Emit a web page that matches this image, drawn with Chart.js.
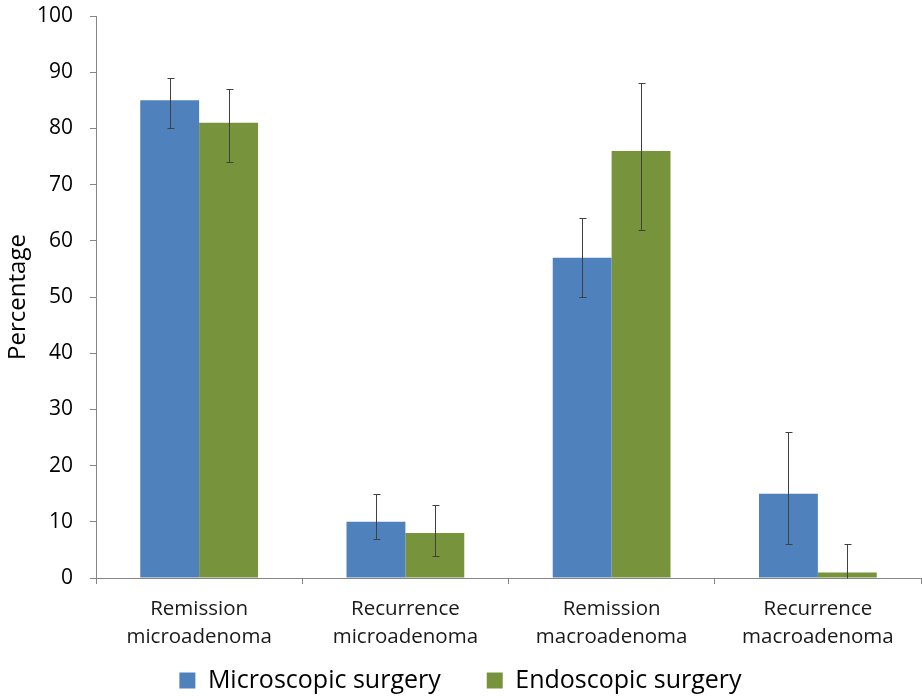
<!DOCTYPE html>
<html>
<head>
<meta charset="utf-8">
<script src="https://cdn.jsdelivr.net/npm/chart.js@4.4.1/dist/chart.umd.min.js"></script>
<style>
  html, body { margin: 0; padding: 0; background: #fff; }
  #wrap { width: 922px; height: 696px; }
</style>
</head>
<body>
<div id="wrap"><canvas id="chart" width="922" height="696"></canvas></div>
<script>
// Chart data
const categories = [
  ['Remission', 'microadenoma'],
  ['Recurrence', 'microadenoma'],
  ['Remission', 'macroadenoma'],
  ['Recurrence', 'macroadenoma']
];
const seriesNames = ['Microscopic surgery', 'Endoscopic surgery'];
const microValues = [85, 10, 57, 15];
const endoValues  = [81, 8, 76, 1];
// error bar ranges (low, high)
const microLow  = [80, 7, 50, 6];
const microHigh = [89, 15, 64, 26];
const endoLow   = [74, 4, 62, 0];
const endoHigh  = [87, 13, 88, 6];
const yTicks    = [0, 10, 20, 30, 40, 50, 60, 70, 80, 90, 100];

const FONT = '"Open Sans", "Noto Sans", sans-serif';
const AXIS = '#868686';

// Draws the whiskers using the chart's own scales
const errorBars = {
  id: 'errorBars',
  afterDatasetsDraw(chart) {
    const ctx = chart.ctx;
    const y = chart.scales.y;
    const ranges = [[microLow, microHigh], [endoLow, endoHigh]];
    ctx.save();
    ctx.strokeStyle = '#404040';
    ctx.lineWidth = 1;
    chart.data.datasets.forEach((ds, di) => {
      const meta = chart.getDatasetMeta(di);
      meta.data.forEach((bar, i) => {
        const x = Math.round(bar.x) + 0.5;
        const top = Math.round(y.getPixelForValue(ranges[di][1][i])) + 0.5;
        const bot = Math.round(y.getPixelForValue(ranges[di][0][i])) + 0.5;
        ctx.beginPath();
        ctx.moveTo(x, top); ctx.lineTo(x, bot);
        ctx.moveTo(x - 3, top); ctx.lineTo(x + 4, top);
        if (ranges[di][0][i] > 0) { ctx.moveTo(x - 3, bot); ctx.lineTo(x + 4, bot); }
        ctx.stroke();
      });
    });
    ctx.restore();
  }
};

// Pull the legend up close under the two-line category labels
const legendNudge = {
  id: 'legendNudge',
  afterLayout(chart) {
    const lg = chart.legend;
    const dy = lg.top - (chart.scales.x.top + 44);
    lg.top -= dy;
    lg.bottom -= dy;
  }
};

new Chart(document.getElementById('chart'), {
  type: 'bar',
  data: {
    labels: categories,
    datasets: [
      { label: seriesNames[0], data: microValues, backgroundColor: '#4F81BD' },
      { label: seriesNames[1], data: endoValues,  backgroundColor: '#77933C' }
    ]
  },
  options: {
    responsive: false,
    animation: false,
    layout: { padding: { top: 16, right: 1, left: 0, bottom: -43 } },
    datasets: { bar: { categoryPercentage: 0.571, barPercentage: 1 } },
    plugins: {
      legend: {
        position: 'bottom',
        labels: {
          boxWidth: 16, boxHeight: 16, padding: 46,
          color: '#000', font: { family: FONT, size: 25 }
        }
      },
      tooltip: { enabled: false }
    },
    scales: {
      x: {
        afterFit(axis) { axis.height = 80; },
        grid: { drawOnChartArea: false, drawTicks: true, tickLength: 6, color: AXIS, offset: true },
        border: { color: AXIS },
        ticks: { color: '#1a1a1a', font: { family: FONT, size: 20.5, lineHeight: 1.366 }, padding: 11, maxRotation: 0 }
      },
      y: {
        min: 0, max: 100,
        afterBuildTicks(axis) { axis.ticks = yTicks.map(v => ({ value: v })); },
        afterFit(axis) { axis.width = 96; axis.paddingTop = 0; axis.paddingBottom = 0; },
        grid: { drawOnChartArea: false, drawTicks: true, tickLength: 6, color: AXIS },
        border: { color: AXIS },
        ticks: { color: '#000', font: { family: FONT, size: 21 }, padding: 17 },
        title: { display: true, text: 'Percentage', color: '#000', font: { family: FONT, size: 24 }, padding: { top: 4, bottom: 0 } }
      }
    }
  },
  plugins: [errorBars, legendNudge]
});
</script>
</body>
</html>
